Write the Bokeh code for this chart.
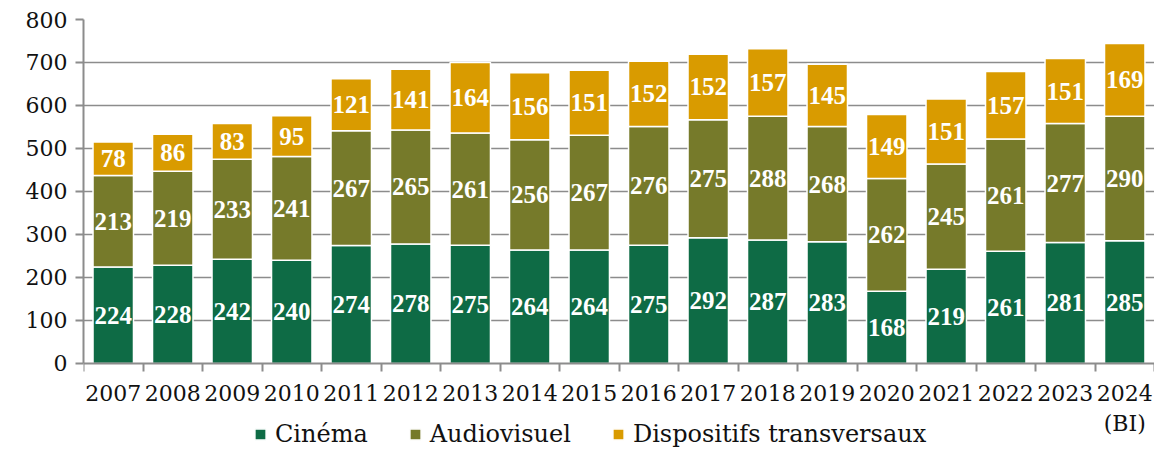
from bokeh.plotting import figure
from bokeh.models import ColumnDataSource, FixedTicker, Range1d, Legend, LegendItem, LabelSet
from bokeh.embed import file_html
from bokeh.resources import INLINE

years = ["2007", "2008", "2009", "2010", "2011", "2012", "2013", "2014", "2015",
         "2016", "2017", "2018", "2019", "2020", "2021", "2022", "2023", "2024\n(BI)"]
cinema = [224, 228, 242, 240, 274, 278, 275, 264, 264, 275, 292, 287, 283, 168, 219, 261, 281, 285]
audiovisuel = [213, 219, 233, 241, 267, 265, 261, 256, 267, 276, 275, 288, 268, 262, 245, 261, 277, 290]
dispositifs = [78, 86, 83, 95, 121, 141, 164, 156, 151, 152, 152, 157, 145, 149, 151, 157, 151, 169]
series_names = ["Cinéma", "Audiovisuel", "Dispositifs transversaux"]
colors = ["#0E6B45", "#767A2A", "#D99B00"]

FONT = "DejaVu Serif"
n = len(years)
xs = [i + 1 for i in range(n)]

src = ColumnDataSource(dict(x=xs, cinema=cinema, audiovisuel=audiovisuel, dispositifs=dispositifs))

p = figure(width=1154, height=451, output_backend="svg", toolbar_location=None,
           x_range=Range1d(0.5, n + 0.5), y_range=Range1d(-205, 800),
           min_border_left=83, min_border_right=0, min_border_top=19, min_border_bottom=0)
p.outline_line_color = None

renderers = p.vbar_stack(["cinema", "audiovisuel", "dispositifs"], x="x", width=0.68,
                         color=colors, line_color="white", line_width=1.5, source=src)

# labels
vals = [cinema, audiovisuel, dispositifs]
base = [0] * n
for v in vals:
    mids = [b + val / 2 for b, val in zip(base, v)]
    ls = ColumnDataSource(dict(x=xs, y=mids, t=[str(val) for val in v]))
    p.add_layout(LabelSet(x="x", y="y", text="t", source=ls, text_color="white",
                          text_font=FONT, text_font_style="bold", text_font_size="25px",
                          text_align="center", text_baseline="middle"))
    base = [b + val for b, val in zip(base, v)]

# axes
p.yaxis.ticker = FixedTicker(ticks=list(range(0, 801, 100)))
p.yaxis.bounds = (0, 800)
p.ygrid.ticker = FixedTicker(ticks=list(range(100, 701, 100)))
p.ygrid.grid_line_color = "#8C8C8C"
p.ygrid.grid_line_width = 1.5
p.xgrid.grid_line_color = None

for ax in (p.xaxis[0], p.yaxis[0]):
    ax.axis_line_color = "#8C8C8C"
    ax.axis_line_width = 2
    ax.major_tick_line_color = "#8C8C8C"
    ax.major_tick_line_width = 2
    ax.minor_tick_line_color = "#8C8C8C"
    ax.minor_tick_line_width = 2
    ax.major_label_text_font = FONT
    ax.major_label_text_font_size = "22px"
    ax.major_label_text_color = "#111111"

p.yaxis.major_tick_in = 0
p.yaxis.major_tick_out = 8
p.yaxis.minor_tick_out = 0
p.yaxis.minor_tick_in = 0
p.yaxis.major_label_standoff = 8

p.xaxis.fixed_location = 0
p.xaxis.ticker = FixedTicker(ticks=xs, minor_ticks=[i + 0.5 for i in range(n + 1)])
p.xaxis.major_label_overrides = {x: y for x, y in zip(xs, years)}
p.xaxis.major_tick_in = 0
p.xaxis.major_tick_out = 0
p.xaxis.minor_tick_in = 0
p.xaxis.minor_tick_out = 8
p.xaxis.major_label_standoff = 10

legend = Legend(items=[LegendItem(label=nm, renderers=[r]) for nm, r in zip(series_names, renderers)],
                orientation="horizontal", location=(170, 3),
                label_text_font=FONT, label_text_font_size="24px", label_text_color="#111111",
                glyph_width=14, glyph_height=14, label_standoff=8, spacing=40,
                border_line_color=None, background_fill_alpha=0, padding=0, margin=0)
p.add_layout(legend)

open("out.html", "w").write(file_html(p, INLINE))
